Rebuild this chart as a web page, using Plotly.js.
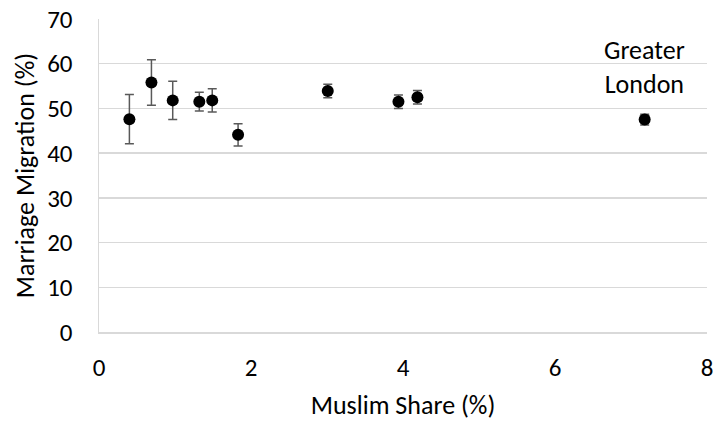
<!DOCTYPE html>
<html>
<head>
<meta charset="utf-8">
<script src="https://cdn.plot.ly/plotly-3.0.1.min.js"></script>
<style>html,body{margin:0;padding:0;background:#fff;}#chart{width:713px;height:421px;}</style>
</head>
<body>
<div id="chart"></div>
<script>
const muslimShare = [0.40, 0.69, 0.97, 1.32, 1.49, 1.83, 3.01, 3.94, 4.19, 7.18];
const marriageMigration = [47.6, 55.8, 51.8, 51.5, 51.8, 44.1, 53.9, 51.5, 52.5, 47.5];
const errorHalfWidth = [5.5, 5.1, 4.3, 2.1, 2.6, 2.5, 1.5, 1.5, 1.5, 1.2];
const annotationLabel = "Greater<br>London";
const annotationPos = {x: 7.18, y: 59.3};

const FONT = "Carlito, Lato, 'Open Sans', sans-serif";

const trace = {
  type: 'scatter',
  mode: 'markers',
  x: muslimShare,
  y: marriageMigration,
  marker: {color: '#000000', size: 12},
  error_y: {type: 'data', array: errorHalfWidth, visible: true, color: '#595959', thickness: 1.5, width: 4.5},
  hoverinfo: 'skip'
};

const layout = {
  width: 713, height: 421,
  margin: {l: 99, r: 6, t: 19, b: 89},
  paper_bgcolor: '#ffffff', plot_bgcolor: '#ffffff',
  showlegend: false,
  font: {family: FONT, color: '#000000', size: 25},
  xaxis: {
    range: [0, 8], dtick: 2, tick0: 0,
    showgrid: false, zeroline: false,
    showline: true, linecolor: '#d9d9d9', linewidth: 1.5,
    ticks: 'outside', ticklen: 12, tickcolor: 'rgba(0,0,0,0)',
    ticklabeloverflow: 'allow',
    tickfont: {family: FONT, size: 25, color: '#000'},
    title: {text: 'Muslim Share (%)', font: {family: FONT, size: 26, color: '#000'}, standoff: 22}
  },
  yaxis: {
    range: [0, 70], dtick: 10, tick0: 0,
    showgrid: true, gridcolor: '#d9d9d9', gridwidth: 1.5,
    zeroline: false,
    showline: true, linecolor: '#d9d9d9', linewidth: 1.5,
    ticks: 'outside', ticklen: 20, tickcolor: 'rgba(0,0,0,0)',
    tickfont: {family: FONT, size: 25, color: '#000'},
    title: {text: 'Marriage Migration (%)', font: {family: FONT, size: 26, color: '#000'}, standoff: 5}
  },
  annotations: [{
    x: annotationPos.x, y: annotationPos.y, xref: 'x', yref: 'y',
    text: annotationLabel, showarrow: false,
    font: {family: FONT, size: 26, color: '#000'},
    align: 'center', xanchor: 'center', yanchor: 'middle'
  }]
};

Plotly.newPlot('chart', [trace], layout, {displayModeBar: false, staticPlot: true});
</script>
</body>
</html>
